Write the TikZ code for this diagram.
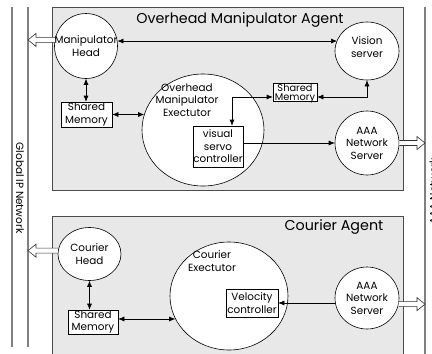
\documentclass[tikz,border=0pt]{standalone}
\usepackage{fontspec}
\setmainfont{Poppins}
\usetikzlibrary{arrows.meta,shapes.geometric,calc}
\newcommand\holarrow[3]{%
  \filldraw[hol] let \p1=(#1), \p2=(#2) in
    (\x1,\y1+2.5pt) -- (\x2+#3*8pt,\y1+2.5pt) -- (\x2+#3*8pt,\y1+6.5pt) -- (\x2,\y1)
    -- (\x2+#3*8pt,\y1-6.5pt) -- (\x2+#3*8pt,\y1-2.5pt) -- (\x1,\y1-2.5pt);}
\begin{document}
\begin{tikzpicture}[x=1pt,y=-1pt,
  agentbox/.style={draw=black!70,fill=black!9,line width=0.7pt},
  proc/.style={ellipse,draw=black,fill=white,line width=0.6pt,inner sep=0pt},
  sbox/.style={rectangle,draw=black,fill=white,line width=0.6pt,inner sep=0pt},
  lbl/.style={align=center,inner sep=0pt,font=\fontsize{10.4}{12.5}\selectfont},
  title/.style={inner sep=0pt,font=\fontsize{14.3}{16}\selectfont},
  net/.style={draw=black!50,line width=1.2pt},
  dbl/.style={line width=0.6pt,{Latex[length=6pt,width=5pt]}-{Latex[length=6pt,width=5pt]}},
  arr/.style={line width=0.6pt,-{Latex[length=6pt,width=5pt]}},
  hol/.style={draw=black!80,fill=white,line width=0.6pt,line join=miter}]
\useasboundingbox (0,0) rectangle (432,354);
\clip (0,0) rectangle (432,354);
% network lines
\draw[net] (12,7) -- (12,347);
\draw[net] (28,7) -- (28,347);
\draw[net] (425,7) -- (425,354);
\coordinate (netL) at (28,0);
\coordinate (netR) at (425,0);
\node[rotate=-90,inner sep=0pt,font=\fontsize{10.5}{12}\selectfont] (gip) at (20,188) {Global IP Network};
\node[rotate=90,anchor=north,inner sep=0pt,font=\fontsize{10.5}{12}\selectfont] (aaan) at (429.5,191) {AAA Network};
% agent boxes
\draw[agentbox] (52,7) rectangle (403,190);
\draw[agentbox] (52,216) rectangle (403,362);
\node[title] (t1) at (240,20) {Overhead Manipulator Agent};
\node[title] (t2) at (334,227) {Courier Agent};
% top agent
\node[proc,minimum width=63,minimum height=65] (mh) at (86,46) {};
\node[lbl] (mht) at (mh) {Manipulator\\Head};
\node[proc,minimum width=64,minimum height=58] (vs) at (367,51) {};
\node[lbl] (vst) at (367,47) {Vision\\server};
\node[proc,minimum width=122,minimum height=112] (ex) at (203,130) {};
\node[lbl] (ext) at (187,100) {Overhead\\Manipulator\\Exectutor};
\node[sbox,minimum width=51,minimum height=25] (sm1) at (86.5,114.5) {};
\node[lbl] (sm1t) at (sm1) {Shared\\Memory};
\node[sbox,minimum width=44,minimum height=18] (sm2) at (295,92.5) {};
\node[lbl,font=\fontsize{9.8}{9}\selectfont] (sm2t) at (295,93.5) {Shared\\Memory};
\node[sbox,minimum width=50,minimum height=41] (vsc) at (218,146.5) {};
\node[lbl] (vsct) at (vsc) {visual\\servo\\controller};
\node[proc,minimum width=64,minimum height=64] (aaa1) at (367,143) {};
\node[lbl] (aaa1t) at (aaa1) {AAA\\Network\\Server};
% bottom agent
\node[proc,minimum width=63,minimum height=53] (ch) at (89.5,254) {};
\node[lbl] (cht) at (ch) {Courier\\Head};
\node[sbox,minimum width=50,minimum height=24] (sm3) at (93,322) {};
\node[lbl] (sm3t) at (sm3) {Shared\\Memory};
\node[proc,minimum width=118,minimum height=108] (ce) at (229,296) {};
\node[lbl] (cet) at (212,261) {Courier\\Exectutor};
\node[sbox,minimum width=52,minimum height=28] (vc) at (252,303) {};
\node[lbl] (vct) at (vc) {Velocity\\controller};
\node[proc,minimum width=64,minimum height=62] (aaa2) at (367,298) {};
\node[lbl] (aaa2t) at (aaa2) {AAA\\Network\\Server};
% connectors top
\draw[dbl] (mh.9) -- (mh.9 -| vs.160);
\draw[dbl] (mh.south) -- (mh.south |- sm1.north);
\draw[dbl] (sm1.east) -- (sm1.east -| ex.165);
\draw[dbl] ([yshift=-4.5pt]sm2.east) -| (vs.south);
\draw[dbl] ([xshift=14pt]vsc.north) |- ([yshift=-4.5pt]sm2.west);
\draw[arr] (vsc.east |- aaa1.west) -- (aaa1.west);
\holarrow{aaa1.east}{netR}{-1}
\holarrow{mh.169}{netL}{1}
% connectors bottom
\holarrow{ch.174}{netL}{1}
\draw[dbl] (ch.south) -- (ch.south |- sm3.north);
\draw[dbl] ([yshift=3pt]sm3.east) -- ([yshift=3pt]sm3.east -| ce.203);
\draw[arr] (aaa2.west |- vc.east) -- (vc.east);
\holarrow{aaa2.-11}{netR}{-1}
\end{tikzpicture}
\end{document}
